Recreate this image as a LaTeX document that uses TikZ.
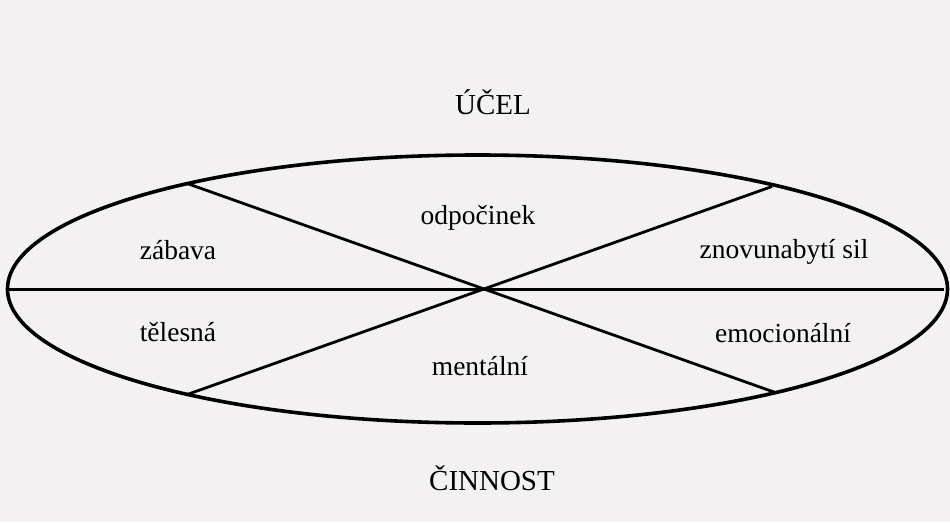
\documentclass[tikz,border=0pt]{standalone}
\usepackage{fontspec}
\setmainfont{Liberation Serif}
\definecolor{paper}{RGB}{243,241,241}
\begin{document}
\begin{tikzpicture}[x=1pt,y=-1pt,
  lbl/.style={font=\fontsize{27.5}{30}\selectfont, text=black, inner sep=0pt},
  headlbl/.style={font=\fontsize{29}{32}\selectfont, text=black, inner sep=0pt},
  divline/.style={line width=2.8pt, black},
  midline/.style={line width=2.2pt, black}]
\fill[paper] (0,0) rectangle (950,522);
\useasboundingbox (0,0) rectangle (950,522);
\coordinate (C) at (477.5,289);
\draw[line width=3.6pt, black] (C) ellipse [x radius=470, y radius=134];
\coordinate (L) at (8,289.5);
\coordinate (R) at (944,289.5);
\coordinate (TL) at (187.5,183.6);
\coordinate (BR) at (775.5,392.6);
\coordinate (TR) at (772,186.5);
\coordinate (BL) at (187.5,394.4);
\draw[midline] (L) -- (R);
\draw[divline] (TL) -- (BR);
\draw[divline] (TR) -- (BL);
\node[headlbl] (ucel) at (493,102) {ÚČEL};
\node[headlbl] (cinnost) at (492,478) {ČINNOST};
\node[lbl] (zabava) at (178,250) {zábava};
\node[lbl] (telesna) at (178,332) {tělesná};
\node[lbl] (odpocinek) at (478,218) {odpočinek};
\node[lbl] (mentalni) at (480,366) {mentální};
\node[lbl] (znovu) at (784,252) {znovunabytí sil};
\node[lbl] (emoc) at (783,333) {emocionální};
\end{tikzpicture}
\end{document}
